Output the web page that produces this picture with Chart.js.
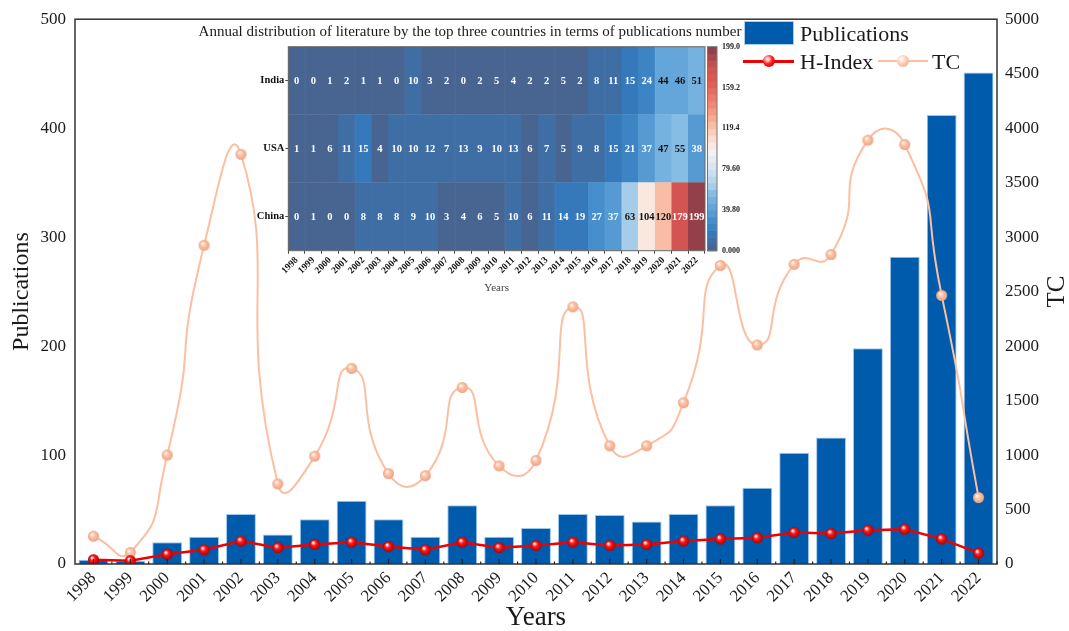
<!DOCTYPE html>
<html><head><meta charset="utf-8">
<script src="https://cdn.jsdelivr.net/npm/chart.js@4.4.0/dist/chart.umd.min.js"></script>
<style>
 body{margin:0;background:#fff;}
 #wrap{position:relative;width:1069px;height:631px;overflow:hidden;}
 #main{position:absolute;left:0;top:0;}
 #inset{position:absolute;left:180px;top:20px;}
 .lg{position:absolute;font-family:"Liberation Serif",serif;font-size:22px;color:#1a1a1a;line-height:22px;white-space:nowrap;}
 .sw{position:absolute;}
 .ball{position:absolute;border-radius:50%;}
</style></head><body>
<div id="wrap">
 <canvas id="main" width="1069" height="631"></canvas>
 <canvas id="inset" width="580" height="280"></canvas>
 <div class="sw" style="left:744px;top:21px;width:48px;height:22px;background:#005bac;border:1px solid #a9cdee;"></div>
 <div class="lg" style="left:800px;top:23px;">Publications</div>
 <div class="sw" style="left:743px;top:60px;width:51px;height:2.5px;background:#f00000;"></div>
 <div class="ball" style="left:763px;top:55px;width:12px;height:12px;background:radial-gradient(circle at 38% 35%,#fff 0,#ffd0d0 12%,#ff1a1a 45%,#b80000 100%);"></div>
 <div class="lg" style="left:800px;top:51px;">H-Index</div>
 <div class="sw" style="left:878px;top:60px;width:50px;height:2px;background:#fcbfa2;"></div>
 <div class="ball" style="left:897px;top:55px;width:12px;height:12px;background:radial-gradient(circle at 38% 35%,#fff 0,#fff3ee 12%,#fcc4a8 50%,#eea585 100%);"></div>
 <div class="lg" style="left:932px;top:51px;">TC</div>
</div>
<script>
// ---- main chart data ----
const years = ['1998','1999','2000','2001','2002','2003','2004','2005','2006','2007','2008','2009','2010',
  '2011','2012','2013','2014','2015','2016','2017','2018','2019','2020','2021','2022'];
const publications = [4,3,20,25,46,27,41,58,41,25,54,25,33,46,45,39,46,54,70,102,116,198,282,412,451];
const hIndex = [4,3,9,13,21,15,18,20,16,13,20,15,17,20,17,18,21,23,24,29,28,31,32,23,10];
const tc = [255,105,1000,2925,3760,735,990,1795,830,810,1620,900,950,2360,1085,1085,1480,2740,2010,2750,2840,3890,3850,2465,610];
const pubTicks = {min:0, max:500, step:100};
const tcTicks = {min:0, max:5000, step:500};

// ---- inset heatmap data ----
const countries = ['China','USA','India'];   // bottom to top
const india = [0,0,1,2,1,1,0,10,3,2,0,2,5,4,2,2,5,2,8,11,15,24,44,46,51];
const usa = [1,1,6,11,15,4,10,10,12,7,13,9,10,13,6,7,5,9,8,15,21,37,47,55,38];
const china = [0,1,0,0,8,8,8,9,10,3,4,6,5,10,6,11,14,19,27,37,63,104,120,179,199];
const cbTicks = [0,39.8,79.6,119.4,159.2,199.0];

const serif = 'Liberation Serif';
const ink = '#1a1a1a';

// colour map (blue - white - red), quantised into levels like the original colour bar
const cmapStops = [[0,[77,96,137]],[10,[63,110,165]],[17,[52,122,188]],[30,[70,142,204]],[45,[105,170,220]],
  [57,[135,190,228]],[65,[175,208,234]],[80,[212,228,242]],[96,[242,240,242]],[106,[253,228,216]],
  [123,[249,188,165]],[145,[240,130,110]],[165,[225,90,80]],[180,[205,82,82]],[199,[135,60,72]]];
function cmap(v){
  for(let i=1;i<cmapStops.length;i++){
    if(v<=cmapStops[i][0]){
      const [a,ca]=cmapStops[i-1],[b,cb]=cmapStops[i];
      const t=(v-a)/(b-a);
      return 'rgb('+ca.map((c,k)=>Math.round(c+(cb[k]-c)*t)).join(',')+')';
    }
  }
  return 'rgb('+cmapStops[cmapStops.length-1][1].join(',')+')';
}
const nLevels = 30, vmax = 199;
function cellColor(v){
  const k=Math.min(nLevels-1,Math.floor(v/(vmax/nLevels)));
  return cmap((k+0.5)*vmax/nLevels);
}

function ball(r, light, mid, dark){
  const c=document.createElement('canvas');
  const s=2*r+2; c.width=c.height=s;
  const g=c.getContext('2d');
  const grd=g.createRadialGradient(s/2-r*0.3,s/2-r*0.35,r*0.08,s/2,s/2,r);
  grd.addColorStop(0,light); grd.addColorStop(0.4,mid); grd.addColorStop(1,dark);
  g.fillStyle=grd; g.beginPath(); g.arc(s/2,s/2,r,0,Math.PI*2); g.fill();
  return c;
}
const hBall = ball(5.5,'#ffffff','#ff1a1a','#b00000');
const tcBall = ball(5.5,'#fff6f0','#fcc4a8','#eda383');

// frame, inward x ticks and the right-hand title
const framePlugin = {
  id:'frame',
  afterDraw(chart){
    const {ctx, chartArea:a, scales} = chart;
    ctx.save();
    ctx.strokeStyle='#333'; ctx.lineWidth=1.5;
    ctx.strokeRect(a.left,a.top,a.right-a.left,a.bottom-a.top);
    const xs=scales.x; ctx.lineWidth=1.2; ctx.strokeStyle='#222';
    const half=(xs.getPixelForTick(1)-xs.getPixelForTick(0))/2;
    ctx.beginPath();
    for(let i=0;i<years.length;i++){
      const px=xs.getPixelForTick(i);
      ctx.moveTo(px,a.bottom); ctx.lineTo(px,a.bottom-5);
      ctx.moveTo(px+half,a.bottom); ctx.lineTo(px+half,a.bottom-2.5);
    }
    ctx.stroke();
    ctx.fillStyle=ink; ctx.font='25px "'+serif+'"';
    ctx.textAlign='center'; ctx.textBaseline='middle';
    ctx.translate(1057,(a.top+a.bottom)/2); ctx.rotate(-Math.PI/2);
    ctx.fillText('TC',0,0);
    ctx.restore();
  }
};

new Chart(document.getElementById('main'), {
  data:{
    labels: years,
    datasets:[
      {type:'bar', label:'Publications', data:publications, yAxisID:'y', backgroundColor:'#005bac',
       borderColor:'#9fc8ec', borderWidth:1, barPercentage:0.81, categoryPercentage:1, order:3},
      {type:'line', label:'TC', data:tc, yAxisID:'y1', borderColor:'#fcbfa2', borderWidth:2,
       tension:0.65, pointStyle:tcBall, pointRadius:5.5, order:2},
      {type:'line', label:'H-Index', data:hIndex, yAxisID:'y', borderColor:'#f00000', borderWidth:2.5,
       tension:0, pointStyle:hBall, pointRadius:5.5, order:1}
    ]
  },
  options:{
    responsive:false, animation:false,
    layout:{padding:{top:15,left:0,right:0,bottom:0}},
    plugins:{legend:{display:false}, tooltip:{enabled:false}},
    scales:{
      x:{grid:{display:false,drawTicks:false}, border:{display:false},
         ticks:{font:{family:serif,size:17}, color:ink, minRotation:45, maxRotation:45, padding:4, autoSkip:false},
         title:{display:true, text:'Years', font:{family:serif,size:27,lineHeight:1}, color:ink, padding:{top:0,bottom:0}},
         afterFit(s){ s.height=67; }},
      y:{position:'left', min:pubTicks.min, max:pubTicks.max,
         ticks:{stepSize:pubTicks.step, font:{family:serif,size:17}, color:ink, padding:9},
         grid:{display:false,drawTicks:false}, border:{display:false},
         title:{display:true, text:'Publications', font:{family:serif,size:24,lineHeight:1}, color:ink, padding:{top:10,bottom:0}},
         afterFit(s){ s.width=75; }},
      y1:{position:'right', min:tcTicks.min, max:tcTicks.max,
         ticks:{stepSize:tcTicks.step, callback:v=>String(v), font:{family:serif,size:17}, color:ink, padding:8},
         grid:{display:false,drawTicks:false}, border:{display:false},
         afterFit(s){ s.width=72; }}
    }
  },
  plugins:[framePlugin]
});

// ---- inset heatmap ----
const rowValues = [china, usa, india];
const heatPlugin = {
  id:'heat',
  afterDatasetsDraw(chart){
    const {ctx, chartArea:a, scales} = chart;
    ctx.save();
    ctx.font='bold 10.5px "'+serif+'"'; ctx.textAlign='center'; ctx.textBaseline='middle';
    chart.data.datasets.forEach((ds,i)=>{
      chart.getDatasetMeta(i).data.forEach((el,j)=>{
        const v=ds.values[j];
        const p=el.getProps(['x','y','base'],true);
        ctx.fillStyle=(v>=40&&v<=150)?'#111':'#fff';
        ctx.fillText(String(v),p.x,(p.y+p.base)/2+0.5);
      });
    });
    ctx.strokeStyle='#666'; ctx.lineWidth=1;
    ctx.strokeRect(a.left,a.top,a.right-a.left,a.bottom-a.top);
    // colour bar
    const cb=scales.cb, x0=a.right+2.5, w=9.5, step=vmax/nLevels;
    for(let k=0;k<nLevels;k++){
      const y0=cb.getPixelForValue(k*step), y1=cb.getPixelForValue((k+1)*step);
      ctx.fillStyle=cmap((k+0.5)*step);
      ctx.fillRect(x0,y1,w,y0-y1+0.6);
    }
    ctx.strokeStyle='#777';
    ctx.strokeRect(x0,cb.getPixelForValue(vmax),w,cb.getPixelForValue(0)-cb.getPixelForValue(vmax));
    ctx.restore();
  }
};

new Chart(document.getElementById('inset'), {
  type:'bar',
  data:{
    labels: years,
    datasets: rowValues.map((vals,i)=>({
      label:countries[i], data:vals.map(()=>1), values:vals,
      backgroundColor:vals.map(cellColor), borderColor:vals.map(cellColor), borderWidth:0.5,
      categoryPercentage:1, barPercentage:1
    }))
  },
  options:{
    responsive:false, animation:false,
    layout:{padding:0},
    plugins:{legend:{display:false}, tooltip:{enabled:false},
      title:{display:true, text:'Annual distribution of literature by the top three countries in terms of publications number',
        font:{family:serif,size:15,weight:'normal',lineHeight:1.2}, color:ink, padding:{top:3,bottom:5.7}}},
    scales:{
      x:{stacked:true, grid:{display:true,drawOnChartArea:false,tickLength:3,color:'#444'}, border:{display:false},
         ticks:{font:{family:serif,size:9.5,weight:'bold'}, color:'#111', minRotation:45, maxRotation:45, padding:1, autoSkip:false},
         title:{display:true, text:'Years', font:{family:serif,size:11,lineHeight:1.2}, color:'#444', padding:{top:0,bottom:5}},
         afterFit(s){ s.height=49.3; }},
      y:{stacked:true, min:0, max:3,
         afterBuildTicks(s){ s.ticks=[0.5,1.5,2.5].map(v=>({value:v})); },
         ticks:{callback:v=>countries[Math.floor(v)], font:{family:serif,size:10.5,weight:'bold'}, color:'#111', padding:1},
         grid:{display:true,drawOnChartArea:false,tickLength:3,color:'#444'}, border:{display:false},
         afterFit(s){ s.width=108.3; }},
      cb:{position:'right', min:0, max:vmax,
         afterBuildTicks(s){ s.ticks=cbTicks.map(v=>({value:v})); },
         ticks:{callback:v=>Number(v).toPrecision(4), font:{family:serif,size:8,weight:'bold'}, color:'#222', padding:17},
         grid:{display:false,drawTicks:false}, border:{display:false},
         afterFit(s){ s.width=55; }}
    }
  },
  plugins:[heatPlugin]
});
</script>
</body></html>
